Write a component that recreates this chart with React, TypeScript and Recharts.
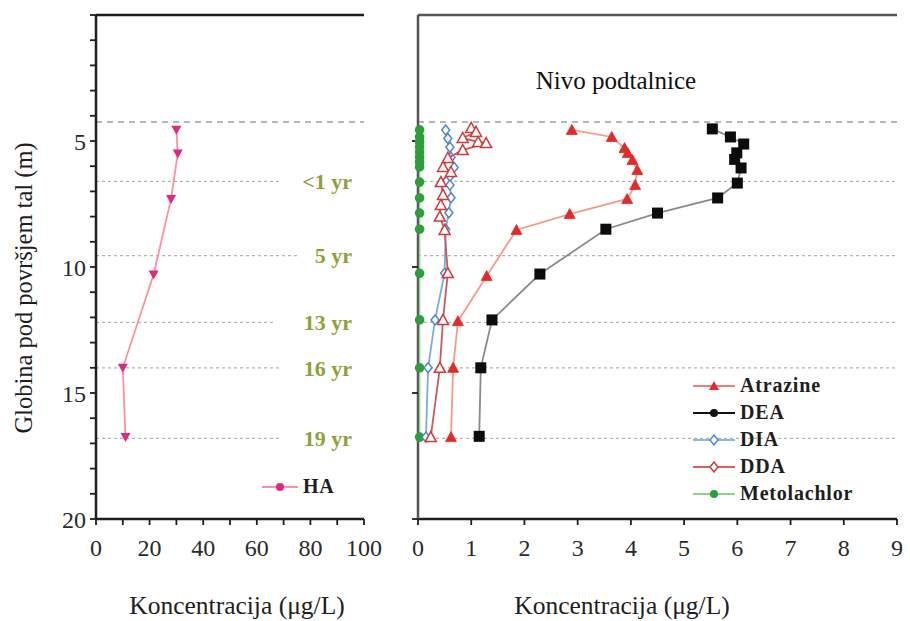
import React from 'react';
import { ScatterChart, Scatter, XAxis, YAxis, ReferenceLine, ReferenceDot, Legend } from 'recharts';

const SERIF = '"Liberation Serif", "Times New Roman", serif';
const INK = '#1e1e1e';

// sampling depths (m) and concentrations
const haDepth = [4.55, 5.5, 7.3, 10.3, 14.0, 16.75];
const haConc = [30, 30.5, 28, 21.5, 10, 11];

const atrazineDepth = [4.56, 4.84, 5.28, 5.48, 5.75, 6.15, 6.75, 7.3, 7.9, 8.53, 10.36, 12.15, 14.0, 16.75];
const atrazineConc = [2.89, 3.64, 3.88, 3.94, 4.03, 4.12, 4.08, 3.93, 2.85, 1.85, 1.29, 0.75, 0.66, 0.62];

const deaDepth = [4.52, 4.84, 5.12, 5.47, 5.73, 6.07, 6.67, 7.26, 7.86, 8.5, 10.28, 12.1, 14.0, 16.72];
const deaConc = [5.53, 5.87, 6.12, 5.99, 5.95, 6.07, 6.0, 5.63, 4.5, 3.53, 2.29, 1.39, 1.18, 1.15];

const diaDepth = [4.56, 4.9, 5.25, 5.65, 6.05, 6.4, 6.75, 7.25, 7.85, 8.5, 10.25, 12.1, 14.0, 16.75];
const diaConc = [0.52, 0.56, 0.6, 0.62, 0.68, 0.6, 0.6, 0.62, 0.58, 0.52, 0.5, 0.32, 0.19, 0.15];

const ddaDepth = [4.48, 4.64, 4.88, 5.04, 5.08, 5.36, 5.67, 6.03, 6.23, 6.63, 7.14, 7.54, 8.0, 8.53, 10.24, 12.1, 14.0, 16.75];
const ddaConc = [1.0, 1.09, 0.84, 1.13, 1.28, 0.84, 0.56, 0.47, 0.62, 0.43, 0.47, 0.43, 0.41, 0.5, 0.56, 0.47, 0.41, 0.24];

const metoDepth = [4.56, 4.84, 5.04, 5.24, 5.44, 5.63, 5.83, 6.03, 6.63, 7.26, 7.86, 8.5, 10.25, 12.1, 14.0, 16.75];
const metoConc = [0.03, 0.03, 0.03, 0.03, 0.03, 0.03, 0.03, 0.03, 0.03, 0.03, 0.03, 0.03, 0.03, 0.03, 0.03, 0.03];

const waterTableDepth = 4.25;
const ageDepth = [6.6, 9.55, 12.2, 14.0, 16.8];
const ageLabels = ['<1 yr', '5 yr', '13 yr', '16 yr', '19 yr'];
const ageLineEnd = [69, 76, 67, 69, 69];

const depthTicks = [0, 1, 2, 3, 4, 5, 6, 7, 8, 9, 10, 11, 12, 13, 14, 15, 16, 17, 18, 19, 20];
const depthMajor = [5, 10, 15, 20];
const haTicks = [0, 10, 20, 30, 40, 50, 60, 70, 80, 90, 100];
const concTicks = [0, 1, 2, 3, 4, 5, 6, 7, 8, 9];

const toPoints = (conc: number[], depth: number[]) => conc.map((x, i) => ({ x, depth: depth[i] }));

const axisLine = { stroke: INK, strokeWidth: 2.5 };
const softAxis = { stroke: '#555', strokeWidth: 2.5 };
const tickLine = { stroke: INK, strokeWidth: 1.8 };
const tickFont = { fill: '#2a2a2a', fontSize: 24, fontFamily: SERIF };

const TriDown = (color: string) => (p: any) => (
  <path d={`M${p.cx - 5},${p.cy - 4}L${p.cx + 5},${p.cy - 4}L${p.cx},${p.cy + 5}Z`} fill={color} />
);
const TriUp = (color: string, open = false) => (p: any) => (
  <path
    d={`M${p.cx},${p.cy - 5.5}L${p.cx + 5.5},${p.cy + 4.5}L${p.cx - 5.5},${p.cy + 4.5}Z`}
    fill={open ? '#fff' : color}
    stroke={color}
    strokeWidth={open ? 1.5 : 0.8}
  />
);
const Square = (color: string) => (p: any) => (
  <rect x={p.cx - 5.5} y={p.cy - 5.5} width={11} height={11} fill={color} />
);
const Diamond = (color: string) => (p: any) => (
  <path d={`M${p.cx},${p.cy - 5}L${p.cx + 4},${p.cy}L${p.cx},${p.cy + 5}L${p.cx - 4},${p.cy}Z`} fill="#fff" stroke={color} strokeWidth={1.5} />
);
const Dot = (color: string) => (p: any) => <circle cx={p.cx} cy={p.cy} r={4.8} fill={color} />;

type LegendItem = { name: string; line: string; color: string; kind: string };

const haLegend: LegendItem[] = [{ name: 'HA', line: '#ff8fa3', color: '#e0287f', kind: 'dot' }];
const chemLegend: LegendItem[] = [
  { name: 'Atrazine', line: '#f07c7c', color: '#e02b2b', kind: 'tri' },
  { name: 'DEA', line: '#111', color: '#111', kind: 'dot' },
  { name: 'DIA', line: '#8fb5e8', color: '#4f86d0', kind: 'diamond' },
  { name: 'DDA', line: '#e06060', color: '#d03a3a', kind: 'diamond' },
  { name: 'Metolachlor', line: '#90d090', color: '#2e9e3a', kind: 'dot' },
];

function LegendBox({ items, lineW }: { items: LegendItem[]; lineW: number }) {
  return (
    <div style={{ fontFamily: SERIF, fontWeight: 700, fontSize: 20, color: INK }}>
      {items.map((it) => (
        <div key={it.name} style={{ display: 'flex', alignItems: 'center', height: 27 }}>
          <svg width={lineW} height={12} style={{ marginRight: 5 }}>
            <line x1={0} y1={6} x2={lineW} y2={6} stroke={it.line} strokeWidth={2} />
            {it.kind === 'tri' && <path d={`M${lineW / 2},1L${lineW / 2 + 5},10L${lineW / 2 - 5},10Z`} fill={it.color} />}
            {it.kind === 'dot' && <circle cx={lineW / 2} cy={6} r={4} fill={it.color} />}
            {it.kind === 'diamond' && (
              <path d={`M${lineW / 2},1L${lineW / 2 + 4},6L${lineW / 2},11L${lineW / 2 - 4},6Z`} fill="#fff" stroke={it.color} strokeWidth={1.5} />
            )}
          </svg>
          <span style={{ letterSpacing: 0.8 }}>{it.name}</span>
        </div>
      ))}
    </div>
  );
}

const ageStyle = { fill: '#8ea23a', fontSize: 22, fontWeight: 700, fontFamily: SERIF };

function HAPanel() {
  return (
    <ScatterChart width={400} height={621} margin={{ top: 15, right: 36, bottom: 0, left: 0 }}>
      <XAxis
        type="number" dataKey="x" domain={[0, 100]} ticks={haTicks} height={102}
        tickFormatter={(v) => (v % 20 === 0 ? String(v) : '')}
        axisLine={axisLine} tickLine={tickLine} tickSize={6} tickMargin={14} tick={tickFont} interval={0}
      />
      <YAxis
        type="number" dataKey="depth" domain={[0, 20]} reversed ticks={depthTicks} width={96}
        tickFormatter={(v) => (depthMajor.includes(v) ? String(v) : '')}
        axisLine={axisLine} tickLine={tickLine} tickSize={6} tickMargin={4} tick={tickFont} interval={0}
      />
      <YAxis
        yAxisId="right" orientation="right" type="number" domain={[0, 20]} reversed ticks={depthTicks} width={0}
        tickFormatter={() => ''} axisLine={axisLine} tickLine={tickLine} tickSize={5} interval={0}
      />
      <ReferenceLine y={0} stroke={INK} strokeWidth={2.5} />
      <ReferenceLine y={waterTableDepth} stroke="#a0a0a0" strokeDasharray="6 5" strokeWidth={1.5} />
      {ageDepth.map((d, i) => (
        <ReferenceLine key={`l${i}`} segment={[{ x: 0, y: d }, { x: ageLineEnd[i], y: d }]} stroke="#b8b4a0" strokeDasharray="3 3" strokeWidth={1.2} />
      ))}
      {ageDepth.map((d, i) => (
        <ReferenceDot key={`d${i}`} x={95.5} y={d} r={0} fill="none" stroke="none"
          label={{ value: ageLabels[i], position: 'left', offset: 0, ...ageStyle }} />
      ))}
      <Scatter
        name="HA" data={toPoints(haConc, haDepth)} shape={TriDown('#e0287f')}
        line={{ stroke: '#ff8fa3', strokeWidth: 1.8 }} isAnimationActive={false}
      />
      <Legend
        layout="vertical" align="center" verticalAlign="middle"
        wrapperStyle={{ left: 262, top: 473, width: 'auto' }}
        content={() => <LegendBox items={haLegend} lineW={36} />}
      />
    </ScatterChart>
  );
}

function ChemPanel() {
  return (
    <ScatterChart width={510} height={621} margin={{ top: 15, right: 13, bottom: 0, left: 0 }}>
      <XAxis
        type="number" dataKey="x" domain={[0, 9]} ticks={concTicks} height={102}
        axisLine={axisLine} tickLine={tickLine} tickSize={6} tickMargin={14} tick={tickFont} interval={0}
      />
      <YAxis
        type="number" dataKey="depth" domain={[0, 20]} reversed ticks={depthMajor} width={18}
        tickFormatter={() => ''} axisLine={softAxis} tickLine={tickLine} tickSize={6} interval={0}
      />
      <YAxis
        yAxisId="right" orientation="right" type="number" domain={[0, 20]} reversed ticks={depthTicks} width={0}
        tickFormatter={() => ''} axisLine={axisLine} tickLine={tickLine} tickSize={5} interval={0}
      />
      <ReferenceLine y={0} stroke="#555" strokeWidth={2.5} />
      <ReferenceLine y={waterTableDepth} stroke="#a0a0a0" strokeDasharray="6 5" strokeWidth={1.5} />
      {ageDepth.map((d, i) => (
        <ReferenceLine key={`l${i}`} y={d} stroke="#b8b4a0" strokeDasharray="3 3" strokeWidth={1.2} />
      ))}
      <ReferenceDot x={3.72} y={2.6} r={0} fill="none" stroke="none"
        label={{ value: 'Nivo podtalnice', position: 'center', fill: '#111', fontSize: 25, fontFamily: SERIF }} />
      <Scatter name="Metolachlor" data={toPoints(metoConc, metoDepth)} shape={Dot('#2e9e3a')}
        line={{ stroke: '#90d090', strokeWidth: 1.5 }} isAnimationActive={false} />
      <Scatter name="DIA" data={toPoints(diaConc, diaDepth)} shape={Diamond('#4f86d0')}
        line={{ stroke: '#7fa8e6', strokeWidth: 1.8 }} isAnimationActive={false} />
      <Scatter name="DDA" data={toPoints(ddaConc, ddaDepth)} shape={TriUp('#d03a3a', true)}
        line={{ stroke: '#c85a5a', strokeWidth: 1.8 }} isAnimationActive={false} />
      <Scatter name="Atrazine" data={toPoints(atrazineConc, atrazineDepth)} shape={TriUp('#e02b2b')}
        line={{ stroke: '#f59a8a', strokeWidth: 1.8 }} isAnimationActive={false} />
      <Scatter name="DEA" data={toPoints(deaConc, deaDepth)} shape={Square('#0c0c0c')}
        line={{ stroke: '#8a8a8a', strokeWidth: 1.8 }} isAnimationActive={false} />
      <Legend
        layout="vertical" align="center" verticalAlign="middle"
        wrapperStyle={{ left: 293, top: 372, width: 'auto' }}
        content={() => <LegendBox items={chemLegend} lineW={42} />}
      />
    </ScatterChart>
  );
}

const titleStyle: React.CSSProperties = {
  position: 'absolute', fontFamily: SERIF, fontSize: 25.5, color: INK, whiteSpace: 'nowrap',
};

export default function App() {
  return (
    <div style={{ position: 'absolute', left: 0, top: 0, width: 910, height: 621, background: '#fff', overflow: 'hidden' }}>
      <div style={{ position: 'absolute', left: 0, top: 0 }}>
        <HAPanel />
      </div>
      <div style={{ position: 'absolute', left: 400, top: 0 }}>
        <ChemPanel />
      </div>
      <div style={{ ...titleStyle, left: 237, top: 606, transform: 'translate(-50%, -50%)' }}>Koncentracija (μg/L)</div>
      <div style={{ ...titleStyle, left: 622, top: 606, transform: 'translate(-50%, -50%)' }}>Koncentracija (μg/L)</div>
      <div style={{ ...titleStyle, fontSize: 24.5, left: 24, top: 288, transform: 'translate(-50%, -50%) rotate(-90deg)' }}>
        Globina pod površjem tal (m)
      </div>
    </div>
  );
}
